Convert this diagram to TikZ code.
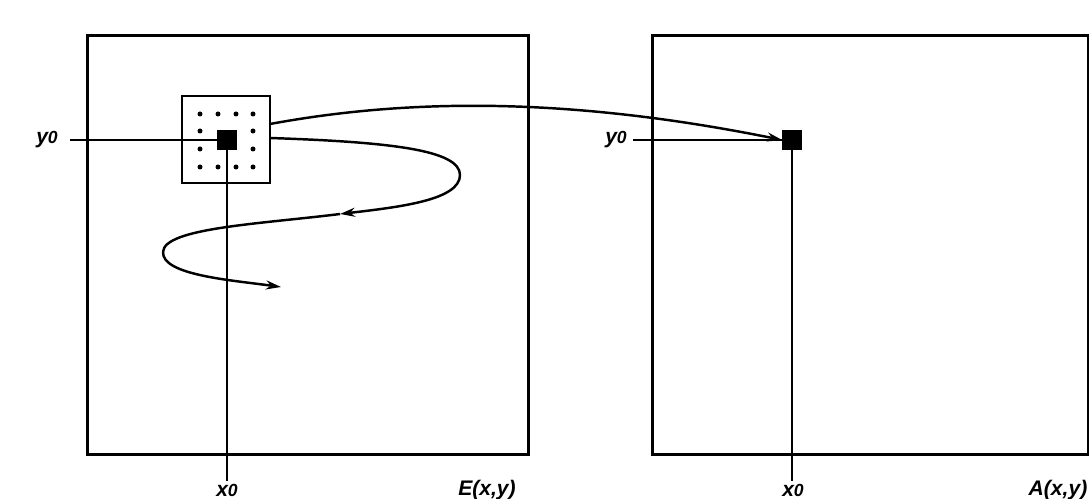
\documentclass[tikz,border=0pt]{standalone}
\usepackage{fontspec}
\setmainfont{Liberation Sans}
\usetikzlibrary{arrows.meta}
\tikzset{
  frame/.style={draw, line width=1.5pt, anchor=north west, inner sep=0pt},
  window/.style={draw, line width=1.2pt, inner sep=0pt, minimum width=1.76cm, minimum height=1.74cm},
  pixel/.style={fill=black, draw=black, inner sep=0pt, minimum size=0.38cm},
  dotpt/.style={fill=black, circle, inner sep=0pt, minimum size=0.1cm},
  refline/.style={line width=0.7pt},
  curve/.style={line width=1.4pt},
  tip/.style={-{Stealth[length=0.3cm, width=0.18cm]}},
  lab/.style={font=\fontsize{12}{14}\selectfont\bfseries\itshape, inner sep=0pt}
}
\begin{document}
\begin{tikzpicture}[x=0.02cm, y=-0.02cm]
\useasboundingbox (0,0) rectangle (1089,499);
% frames
\node[frame, minimum width=8.82cm, minimum height=8.38cm] (E) at (86,34) {};
\node[frame, minimum width=8.72cm, minimum height=8.38cm] (A) at (651,34) {};
% window and pixels
\node[window] (win) at (226,139.5) {};
\node[pixel] (p1) at (227,140) {};
\node[pixel] (p2) at (792,140) {};
% dots
\foreach \dx/\dy [count=\i] in {200/114,218/114,236/114,253/114,200/131,253/131,200/149,253/149,200/167,218/167,236/167,253/167}
  \node[dotpt] (d\i) at (\dx,\dy) {};
% reference line ends
\coordinate (yl1) at (70,140);
\coordinate (xl1) at (227,481);
\coordinate (yl2) at (633,140);
\coordinate (xl2) at (792,481);
\draw[refline] (yl1) -- (p1.west);
\draw[refline] (p1.south) -- (xl1);
\draw[refline] (yl2) -- (p2.west);
\draw[refline] (p2.south) -- (xl2);
% labels
\node[lab] (ly1) at (47,140) {y{\fontsize{10}{12}\selectfont 0}};
\node[lab] (lx1) at (227,490) {x{\fontsize{10}{12}\selectfont 0}};
\node[lab] (ly2) at (616,140) {y{\fontsize{10}{12}\selectfont 0}};
\node[lab] (lx2) at (793,490) {x{\fontsize{10}{12}\selectfont 0}};
\node[lab] (lE) at (487,490) {E(x,y)};
\node[lab] (lA) at (1058,490) {A(x,y)};
% curves
\coordinate (c0) at (270,124);
\coordinate (c1) at (270,138);
\coordinate (m1) at (460,175);
\coordinate (m2) at (340,214);
\coordinate (m3) at (163,252);
\coordinate (m4) at (281,287);
\draw[curve, tip] (c0) .. controls (400,100) and (560,95) .. (p2.west);
\draw[curve] (c1) .. controls (390,142) and (460,150) .. (m1);
\draw[curve, tip] (m1) .. controls (460,200) and (400,207) .. (m2);
\draw[curve] (m2) .. controls (260,224) and (164,228) .. (m3);
\draw[curve, tip] (m3) .. controls (162,275) and (230,280) .. (m4);
\end{tikzpicture}
\end{document}
